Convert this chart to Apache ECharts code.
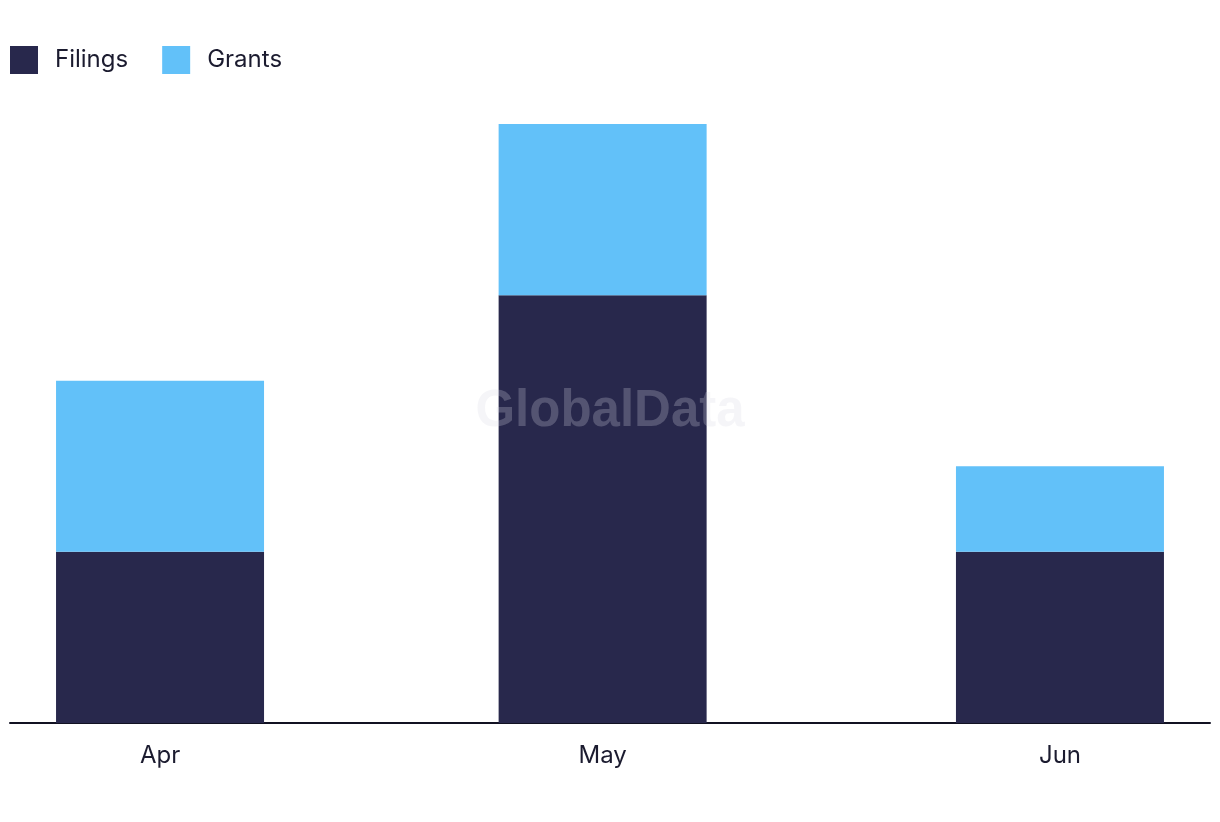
<!DOCTYPE html>
<html>
<head>
<meta charset="utf-8">
<script src="https://cdn.jsdelivr.net/npm/echarts@6/dist/echarts.min.js"></script>
<style>
html,body{margin:0;padding:0;background:#fff;}
#chart{width:1220px;height:822px;}
</style>
</head>
<body>
<div id="chart"></div>
<script>
// Data
const months = ['2024-04-01', '2024-05-01', '2024-06-01'];
const tickLabels = ['Apr', 'May', 'Jun'];
const filings = [2, 5, 2];
const grants = [2, 2, 1];
const seriesNames = ['Filings', 'Grants'];

const DAY = 86400000;
const toDay = s => Date.parse(s + 'T00:00:00Z') / DAY; // days since epoch
const monthDays = months.map(toDay);
const padDays = 10.17;

const chart = echarts.init(document.getElementById('chart'));
const fontFam = 'Inter, "Noto Sans", sans-serif';
chart.setOption({
  animation: false,
  backgroundColor: '#ffffff',
  color: ['#28284c', '#62c1f9'],
  legend: {
    left: 10, top: 46, padding: 0,
    itemWidth: 28, itemHeight: 28, itemGap: 34,
    icon: 'rect',
    textStyle: { fontFamily: fontFam, fontSize: 24, color: '#1b1b2f', padding: [0, 0, 0, 12] },
    data: seriesNames
  },
  graphic: [{
    type: 'text', z: 100, silent: true,
    style: { text: 'GlobalData', x: 610, y: 412, align: 'center', verticalAlign: 'middle',
      fontFamily: '"Liberation Sans", Arial, sans-serif', fontWeight: 'bold', fontSize: 51,
      fill: 'rgba(215,215,228,0.25)' }
  }],
  grid: { left: 10, right: 10, top: 124, bottom: 99, containLabel: false },
  xAxis: {
    type: 'value',
    min: monthDays[0] - padDays, max: monthDays[monthDays.length - 1] + padDays,
    axisLine: { show: true, lineStyle: { color: '#111122', width: 2 } },
    axisTick: { show: false },
    splitLine: { show: false },
    axisLabel: {
      customValues: monthDays,
      formatter: v => { const i = monthDays.findIndex(d => Math.abs(d - v) < 0.01); return i >= 0 ? tickLabels[i] : ''; },
      fontFamily: fontFam, fontSize: 24, color: '#1b1b2f', margin: 21
    }
  },
  yAxis: { type: 'value', min: 0, max: 7, show: false, splitLine: { show: false } },
  series: [
    { name: seriesNames[0], type: 'bar', stack: 'a', barWidth: 208, encode: { x: 1, y: 0 },
      data: monthDays.map((d, i) => [filings[i], d]) },
    { name: seriesNames[1], type: 'bar', stack: 'a', barWidth: 208, encode: { x: 1, y: 0 },
      data: monthDays.map((d, i) => [grants[i], d]) }
  ]
});
</script>
</body>
</html>
